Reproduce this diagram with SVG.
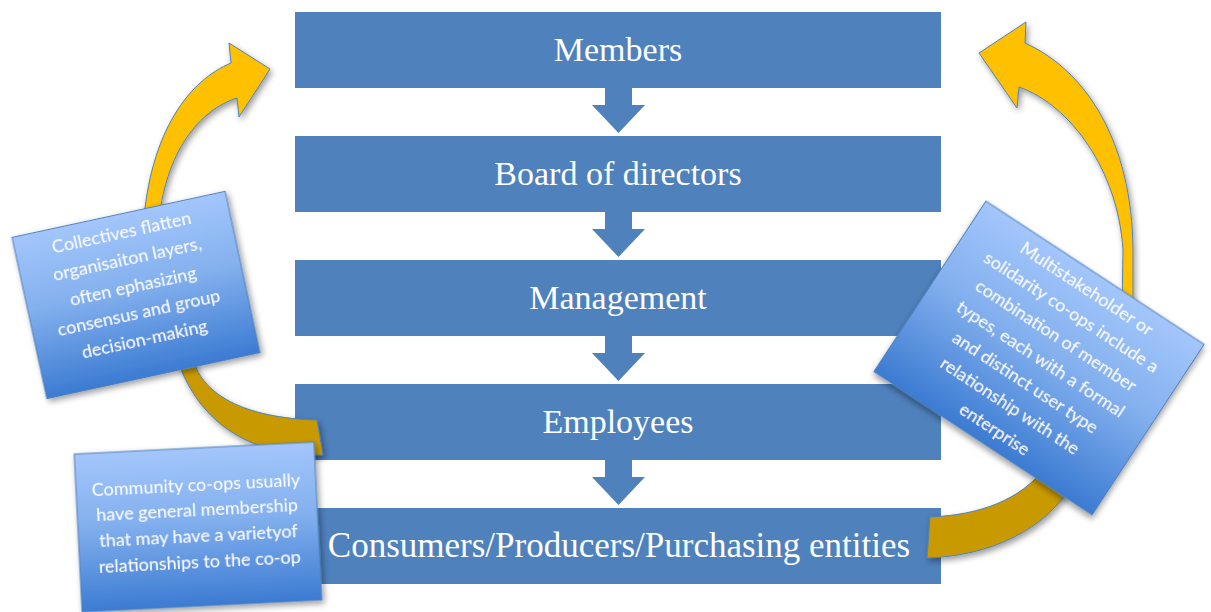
<svg xmlns="http://www.w3.org/2000/svg" width="1211" height="612" viewBox="0 0 1211 612">
<defs>
<style>
.bar{fill:#4F81BD;}
.bartxt{font-family:"Liberation Serif","Times New Roman",serif;font-size:34px;fill:#FFFFFF;text-anchor:middle;}
.down{fill:#4F81BD;}
.gold{fill:#FFC000;stroke:#4F81BD;stroke-width:1;}
.goldback{fill:#C99A00;stroke:#4F81BD;stroke-width:1;}
.note{fill:url(#noteGrad);stroke:#4F81BD;stroke-width:1;}
.notetxt{font-family:Lato,"Open Sans","Liberation Sans",sans-serif;font-size:18px;fill:#FFFFFF;text-anchor:middle;}
</style>
<linearGradient id="noteGrad" x1="0" y1="0" x2="0" y2="1">
<stop offset="0" stop-color="#A3C6FB"/>
<stop offset="0.45" stop-color="#83B0EE"/>
<stop offset="1" stop-color="#3C7BD2"/>
</linearGradient>
<filter id="shadow" x="-20%" y="-20%" width="140%" height="140%">
<feGaussianBlur in="SourceAlpha" stdDeviation="3"/>
<feOffset dx="2" dy="3" result="o"/>
<feComponentTransfer><feFuncA type="linear" slope="0.4"/></feComponentTransfer>
<feMerge><feMergeNode/><feMergeNode in="SourceGraphic"/></feMerge>
</filter>
</defs>
<rect width="1211" height="612" fill="#FFFFFF"/>

<g id="node-members">
<rect class="bar" x="295" y="12" width="646" height="76"/>
<text class="bartxt" x="618" y="61">Members</text>
</g>
<g id="node-board">
<rect class="bar" x="295" y="136" width="646" height="76"/>
<text class="bartxt" x="618" y="185">Board of directors</text>
</g>
<g id="node-management">
<rect class="bar" x="295" y="260" width="646" height="76"/>
<text class="bartxt" x="618" y="309">Management</text>
</g>
<g id="node-employees">
<rect class="bar" x="295" y="384" width="646" height="76"/>
<text class="bartxt" x="618" y="433">Employees</text>
</g>
<g id="node-consumers">
<rect class="bar" x="295" y="508" width="646" height="76"/>
<text class="bartxt" x="619" y="557" style="font-size:35px">Consumers/Producers/Purchasing entities</text>
</g>

<g id="connectors">
<path class="down" d="M605,88 H632 V105 H645 L618.5,133 L592,105 H605 Z"/>
<path class="down" d="M605,212 H632 V229 H645 L618.5,257 L592,229 H605 Z"/>
<path class="down" d="M605,336 H632 V353 H645 L618.5,381 L592,353 H605 Z"/>
<path class="down" d="M605,460 H632 V477 H645 L618.5,505 L592,477 H605 Z"/>

<g id="left-curved-arrow" filter="url(#shadow)">
<path class="goldback" d="M192,355 C200,395 245,418 317,420 L323,455 C258,457 198,428 176,355 Z"/>
<path class="gold" d="M231,63 L229,43 L270,69 L239,117 L237,98 C200,110 165,150 158,228 L143,228 C150,130 190,80 231,63 Z"/>
</g>
<g id="right-curved-arrow" filter="url(#shadow)">
<path class="goldback" d="M1045,468 C1020,500 980,515 930,517 L927,558 C990,556 1045,530 1072,485 Z"/>
<path class="gold" d="M1025,43 L1026,22 L979,53 L1017,108 L1019,87 C1070,105 1118,170 1123,250 L1122,310 L1133,310 L1133,250 C1132,140 1085,70 1025,43 Z"/>
</g>
</g>

<g id="note-collectives" transform="translate(136,295) rotate(-12.19)" filter="url(#shadow)">
<rect class="note" x="-109" y="-82.5" width="218" height="165"/>
<text class="notetxt" x="-1" y="-58">Collectives flatten</text>
<text class="notetxt" x="-1" y="-30.8">organisaiton layers,</text>
<text class="notetxt" x="-1" y="-3.5">often ephasizing</text>
<text class="notetxt" x="-1" y="23.8">consensus and group</text>
<text class="notetxt" x="-1" y="51">decision-making</text>
</g>

<g id="note-community" transform="translate(198,527) rotate(-2.86)" filter="url(#shadow)">
<rect class="note" x="-120" y="-79" width="240" height="158"/>
<text class="notetxt" x="0" y="-36.4">Community co-ops usually</text>
<text class="notetxt" x="0" y="-10.7">have general membership</text>
<text class="notetxt" x="0" y="15">that may have a varietyof</text>
<text class="notetxt" x="0" y="40.8">relationships to the co-op</text>
</g>

<g id="note-multistakeholder" transform="translate(1039,358) rotate(33.3)" filter="url(#shadow)">
<rect class="note" x="-130.5" y="-102" width="261" height="204"/>
<text class="notetxt" x="2" y="-78.5">Multistakeholder or</text>
<text class="notetxt" x="2" y="-50.5">solidarity co-ops include a</text>
<text class="notetxt" x="2" y="-22.5">combination of member</text>
<text class="notetxt" x="2" y="5.5">types, each with a formal</text>
<text class="notetxt" x="2" y="33.5">and distinct user type</text>
<text class="notetxt" x="2" y="61.5">relationship with the</text>
<text class="notetxt" x="2" y="89.5">enterprise</text>
</g>
</svg>
